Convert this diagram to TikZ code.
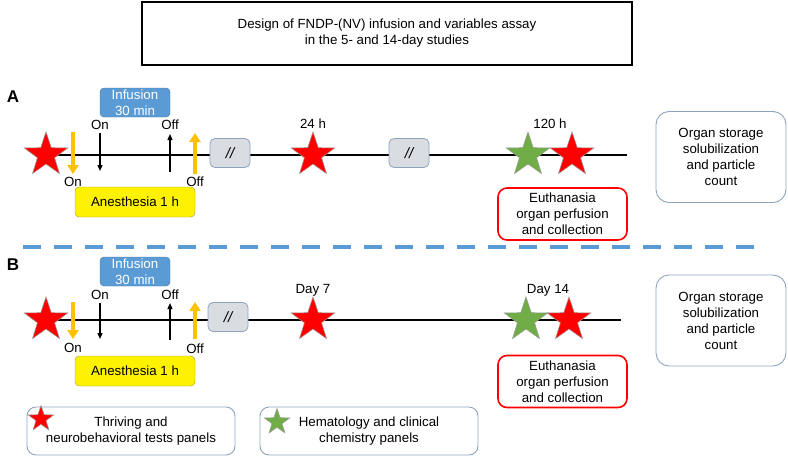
\documentclass[tikz,border=0pt]{standalone}
\usepackage{fontspec}
\setmainfont{Liberation Sans}
\usetikzlibrary{shapes.geometric,arrows.meta}

\definecolor{starred}{HTML}{FF0000}
\definecolor{stargreen}{HTML}{70AD47}
\definecolor{infblue}{HTML}{5B9BD5}
\definecolor{anesorange}{HTML}{FFC000}
\definecolor{boxedge}{HTML}{8EA3BD}
\definecolor{gapgray}{HTML}{D9DCE1}

\begin{document}
\begin{tikzpicture}[x=1pt,y=-1pt,
    every node/.style={font=\fontsize{13.3}{16}\selectfont},
    redstar/.style={star,star points=5,star point ratio=2.55,inner sep=0pt,
        minimum size=46pt,fill=starred,draw=gray!80,line width=0.5pt},
    greenstar/.style={redstar,fill=stargreen},
    infbox/.style={rounded corners=4pt,fill=infblue,draw=infblue!75!black,
        text=white,align=center,minimum width=70pt,minimum height=29pt,inner sep=0pt},
    anesbox/.style={rounded corners=4pt,fill=yellow,draw=yellow!55!black,
        minimum width=120pt,minimum height=30pt,inner sep=0pt},
    gapbox/.style={rounded corners=5pt,fill=gapgray,draw=boxedge,line width=0.8pt,
        minimum width=40pt,minimum height=29pt,inner sep=0pt,
        font=\fontsize{15}{15}\selectfont\itshape},
    euthbox/.style={rounded corners=9pt,draw=red,line width=1.6pt,align=center,
        minimum width=129pt,minimum height=52pt,inner sep=0pt},
    organbox/.style={rounded corners=13pt,draw=boxedge,line width=0.9pt,align=center,
        minimum width=130pt,minimum height=91pt,inner sep=0pt},
    legbox/.style={rounded corners=9pt,draw=boxedge,line width=0.9pt,align=center,
        minimum height=48pt,inner sep=0pt},
    timeline/.style={line width=1.6pt},
    blackarr/.style={line width=1.2pt,-{Triangle[width=5pt,length=6pt]}},
    orangearr/.style={line width=4pt,draw=anesorange,-{Triangle[width=11pt,length=9pt]}}]

    \useasboundingbox (0,0) rectangle (788,456);

    % Title
    \node[draw,line width=2.5pt,minimum width=490pt,minimum height=63pt,align=center]
        (title) at (387,33.5) {Design of FNDP-(NV) infusion and variables assay\\in the 5- and 14-day studies};

    % Panel A
    \node[font=\fontsize{17}{17}\selectfont\bfseries] (labA) at (13,97) {A};
    \coordinate (startA) at (46,155);
    \coordinate (stopA) at (627,155);
    \draw[timeline] (startA) -- (stopA);
    \node[redstar] (preA) at (startA) {};
    \node[gapbox] (gapA1) at (230,153) {//};
    \node[redstar] (dayA) at (313,155) {};
    \node[gapbox] (gapA2) at (409,153) {//};
    \node[greenstar] (hemA) at (528,155) {};
    \node[redstar] (endA) at (572,155) {};
    \node (hA) at (313,124) {24 h};
    \node (hhA) at (550,124) {120 h};

    \node[infbox] (infA) at (135,102.5) {Infusion\\30 min};
    \node[anesbox] (anesA) at (135,202) {Anesthesia 1 h};
    \coordinate (aonA1) at (73,132);   \coordinate (aonA2) at (73,174);
    \coordinate (ionA1) at (100,133);  \coordinate (ionA2) at (100,171);
    \coordinate (ioffA1) at (170,172); \coordinate (ioffA2) at (170,134);
    \coordinate (aoffA1) at (195,174); \coordinate (aoffA2) at (195,133);
    \draw[orangearr] (aonA1) -- (aonA2);
    \draw[blackarr] (ionA1) -- (ionA2);
    \draw[blackarr] (ioffA1) -- (ioffA2);
    \draw[orangearr] (aoffA1) -- (aoffA2);
    \node (onA1) at (73,182) {On};
    \node (onA2) at (100,125) {On};
    \node (offA1) at (170,125) {Off};
    \node (offA2) at (195,182) {Off};

    \node[euthbox] (euthA) at (562.5,214) {Euthanasia\\organ perfusion\\and collection};
    \node[organbox] (organA) at (721,157) {Organ storage\\solubilization\\and particle\\count};

    % Separator
    \coordinate (sepL) at (23,247);
    \coordinate (sepR) at (758,247);
    \draw[infblue,line width=4.5pt,dash pattern=on 18pt off 13pt] (sepL) -- (sepR);

    % Panel B
    \node[font=\fontsize{17}{17}\selectfont\bfseries] (labB) at (13,265) {B};
    \coordinate (startB) at (46,320);
    \coordinate (stopB) at (621,320);
    \draw[timeline] (startB) -- (stopB);
    \node[redstar] (preB) at (startB) {};
    \node[gapbox] (gapB1) at (228,317) {//};
    \node[redstar] (dayB) at (313,320) {};
    \node[greenstar] (hemB) at (526,320) {};
    \node[redstar] (endB) at (569,320) {};
    \node (dB) at (313,290) {Day 7};
    \node (ddB) at (548,290) {Day 14};

    \node[infbox] (infB) at (135,271.5) {Infusion\\30 min};
    \node[anesbox] (anesB) at (135,371) {Anesthesia 1 h};
    \coordinate (aonB1) at (73,302);   \coordinate (aonB2) at (73,339);
    \coordinate (ionB1) at (100,303);  \coordinate (ionB2) at (100,339);
    \coordinate (ioffB1) at (170,340); \coordinate (ioffB2) at (170,303);
    \coordinate (aoffB1) at (195,339); \coordinate (aoffB2) at (195,302);
    \draw[orangearr] (aonB1) -- (aonB2);
    \draw[blackarr] (ionB1) -- (ionB2);
    \draw[blackarr] (ioffB1) -- (ioffB2);
    \draw[orangearr] (aoffB1) -- (aoffB2);
    \node (onB1) at (73,348) {On};
    \node (onB2) at (100,295) {On};
    \node (offB1) at (170,295) {Off};
    \node (offB2) at (195,349) {Off};

    \node[euthbox] (euthB) at (562.5,381.5) {Euthanasia\\organ perfusion\\and collection};
    \node[organbox] (organB) at (721,320.5) {Organ storage\\solubilization\\and particle\\count};

    % Legend
    \node[legbox,minimum width=208pt] (legRed) at (131,431) {Thriving and\\neurobehavioral tests panels};
    \node[redstar,minimum size=27pt] (keyRed) at (41,419) {};
    \node[legbox,minimum width=218pt] (legGreen) at (369,431) {Hematology and clinical\\chemistry panels};
    \node[greenstar,minimum size=27pt] (keyGreen) at (277,422) {};
\end{tikzpicture}
\end{document}
